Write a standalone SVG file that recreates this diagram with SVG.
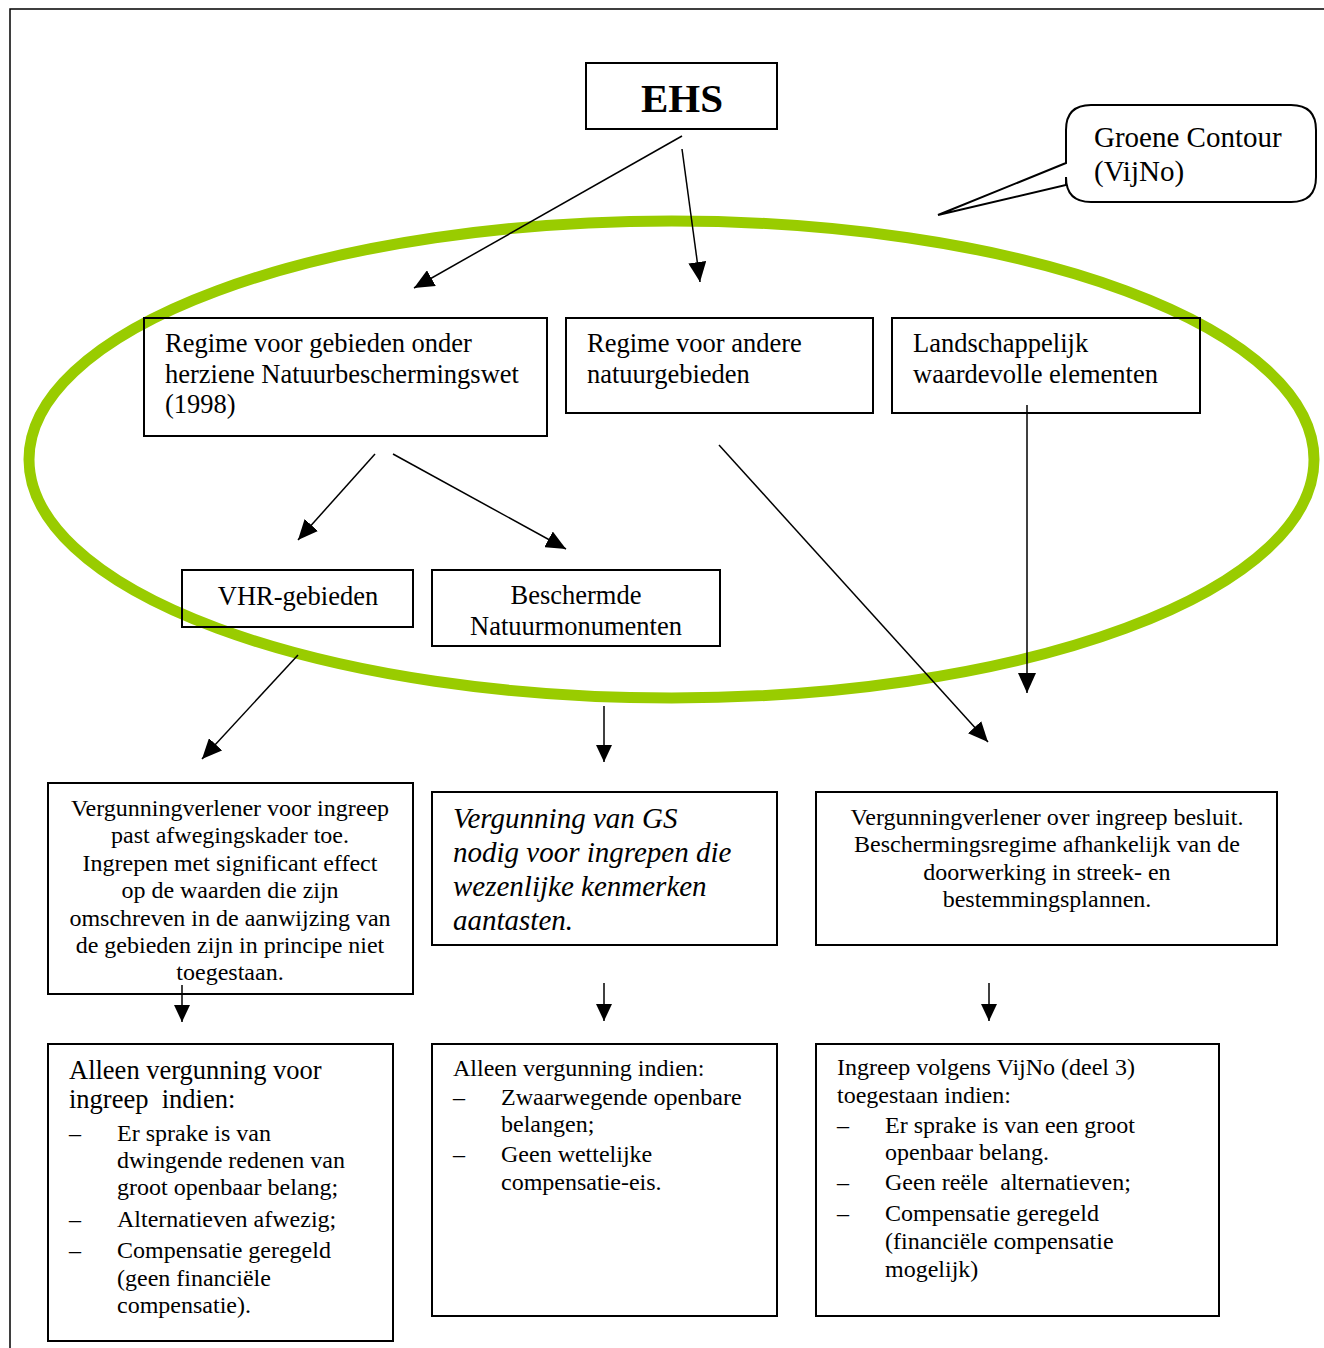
<svg xmlns="http://www.w3.org/2000/svg" width="1324" height="1348" viewBox="0 0 1324 1348">
<style>
text{font-family:"Liberation Serif","Times New Roman",serif;fill:#000}
.box{fill:none;stroke:#000;stroke-width:2}
.t26{font-size:26.5px}
.t24{font-size:24px}
.t29{font-size:29px}
.c{text-anchor:middle}
.it{font-style:italic}
.conn line{stroke:#000;stroke-width:1.5}
</style>
<defs>
<marker id="ah" markerUnits="userSpaceOnUse" markerWidth="21" markerHeight="18" refX="20" refY="9" orient="auto"><path d="M0,0 L20,9 L0,18 z" fill="#000"/></marker>
<marker id="ahs" markerUnits="userSpaceOnUse" markerWidth="18" markerHeight="16" refX="17" refY="8" orient="auto"><path d="M0,0 L17,8 L0,16 z" fill="#000"/></marker>
</defs>
<rect width="1324" height="1348" fill="#fff"/>
<path d="M10,1348 V9 H1324" fill="none" stroke="#000" stroke-width="1.5"/>
<g id="groene-contour-ellipse"><ellipse cx="671.5" cy="459.5" rx="642.5" ry="238.5" fill="none" stroke="#99CC00" stroke-width="11"/></g>
<g id="callout">
<path d="M1091,105 H1291 Q1316,105 1316,130 V177 Q1316,202 1291,202 H1091 Q1066,202 1066,177 V185 L938,215 L1066,163 V130 Q1066,105 1091,105 Z" fill="#fff" stroke="#000" stroke-width="2"/>
<text class="t29" x="1094" y="147">Groene Contour</text>
<text class="t29" x="1094" y="181">(VijNo)</text>
</g>
<g id="ehs"><rect class="box" x="586" y="63" width="191" height="66"/><text x="682" y="112" class="c" style="font-size:41px;font-weight:bold">EHS</text></g>
<g id="regime-nbw"><rect class="box" x="144" y="318" width="403" height="118"/>
<text class="t26" x="165" y="352">Regime voor gebieden onder</text>
<text class="t26" x="165" y="383">herziene Natuurbeschermingswet</text>
<text class="t26" x="165" y="413">(1998)</text></g>
<g id="regime-andere"><rect class="box" x="566" y="318" width="307" height="95"/>
<text class="t26" x="587" y="352">Regime voor andere</text>
<text class="t26" x="587" y="383">natuurgebieden</text></g>
<g id="landschap"><rect class="box" x="892" y="318" width="308" height="95"/>
<text class="t26" x="913" y="352">Landschappelijk</text>
<text class="t26" x="913" y="383">waardevolle elementen</text></g>
<g id="vhr"><rect class="box" x="182" y="570" width="231" height="57"/>
<text class="t26 c" x="298" y="605">VHR-gebieden</text></g>
<g id="bnm"><rect class="box" x="432" y="570" width="288" height="76"/>
<text class="t26 c" x="576" y="604">Beschermde</text>
<text class="t26 c" x="576" y="635">Natuurmonumenten</text></g>
<g id="box-a"><rect class="box" x="48" y="783" width="365" height="211"/>
<text class="t24 c" x="230" y="816">Vergunningverlener voor ingreep</text>
<text class="t24 c" x="230" y="843">past afwegingskader toe.</text>
<text class="t24 c" x="230" y="871">Ingrepen met significant effect</text>
<text class="t24 c" x="230" y="898">op de waarden die zijn</text>
<text class="t24 c" x="230" y="926">omschreven in de aanwijzing van</text>
<text class="t24 c" x="230" y="953">de gebieden zijn in principe niet</text>
<text class="t24 c" x="230" y="980">toegestaan.</text></g>
<g id="box-b"><rect class="box" x="432" y="792" width="345" height="153"/>
<text class="t29 it" x="453" y="828">Vergunning van GS</text>
<text class="t29 it" x="453" y="862">nodig voor ingrepen die</text>
<text class="t29 it" x="453" y="896">wezenlijke kenmerken</text>
<text class="t29 it" x="453" y="930">aantasten.</text></g>
<g id="box-c"><rect class="box" x="816" y="792" width="461" height="153"/>
<text class="t24 c" x="1047" y="825">Vergunningverlener over ingreep besluit.</text>
<text class="t24 c" x="1047" y="852">Beschermingsregime afhankelijk van de</text>
<text class="t24 c" x="1047" y="880">doorwerking in streek- en</text>
<text class="t24 c" x="1047" y="907">bestemmingsplannen.</text></g>
<g id="box-d"><rect class="box" x="48" y="1044" width="345" height="297"/>
<text class="t26" x="69" y="1079">Alleen vergunning voor</text>
<text class="t26" x="69" y="1108">ingreep &#160;indien:</text>
<text class="t24" x="69" y="1141">–</text><text class="t24" x="117" y="1141">Er sprake is van</text>
<text class="t24" x="117" y="1168">dwingende redenen van</text>
<text class="t24" x="117" y="1195">groot openbaar belang;</text>
<text class="t24" x="69" y="1227">–</text><text class="t24" x="117" y="1227">Alternatieven afwezig;</text>
<text class="t24" x="69" y="1258">–</text><text class="t24" x="117" y="1258">Compensatie geregeld</text>
<text class="t24" x="117" y="1286">(geen financiële</text>
<text class="t24" x="117" y="1313">compensatie).</text></g>
<g id="box-e"><rect class="box" x="432" y="1044" width="345" height="272"/>
<text class="t24" x="453" y="1076">Alleen vergunning indien:</text>
<text class="t24" x="453" y="1105">–</text><text class="t24" x="501" y="1105">Zwaarwegende openbare</text>
<text class="t24" x="501" y="1132">belangen;</text>
<text class="t24" x="453" y="1162">–</text><text class="t24" x="501" y="1162">Geen wettelijke</text>
<text class="t24" x="501" y="1190">compensatie-eis.</text></g>
<g id="box-f"><rect class="box" x="816" y="1044" width="403" height="272"/>
<text class="t24" x="837" y="1075">Ingreep volgens VijNo (deel 3)</text>
<text class="t24" x="837" y="1103">toegestaan indien:</text>
<text class="t24" x="837" y="1133">–</text><text class="t24" x="885" y="1133">Er sprake is van een groot</text>
<text class="t24" x="885" y="1160">openbaar belang.</text>
<text class="t24" x="837" y="1190">–</text><text class="t24" x="885" y="1190">Geen reële &#160;alternatieven;</text>
<text class="t24" x="837" y="1221">–</text><text class="t24" x="885" y="1221">Compensatie geregeld</text>
<text class="t24" x="885" y="1249">(financiële compensatie</text>
<text class="t24" x="885" y="1277">mogelijk)</text></g>
<g id="connectors" class="conn">
<line x1="682" y1="136" x2="414" y2="288" marker-end="url(#ah)"/>
<line x1="682" y1="149" x2="700" y2="282" marker-end="url(#ah)"/>
<line x1="375" y1="454" x2="298" y2="540" marker-end="url(#ah)"/>
<line x1="393" y1="454" x2="566" y2="549" marker-end="url(#ah)"/>
<line x1="719" y1="445" x2="988" y2="742" marker-end="url(#ah)"/>
<line x1="1027" y1="405" x2="1027" y2="693" marker-end="url(#ah)"/>
<line x1="298" y1="655" x2="202" y2="759" marker-end="url(#ah)"/>
<line x1="604" y1="706" x2="604" y2="762" marker-end="url(#ahs)"/>
<line x1="182" y1="985" x2="182" y2="1022" marker-end="url(#ahs)"/>
<line x1="604" y1="983" x2="604" y2="1021" marker-end="url(#ahs)"/>
<line x1="989" y1="983" x2="989" y2="1021" marker-end="url(#ahs)"/>
</g>
</svg>
